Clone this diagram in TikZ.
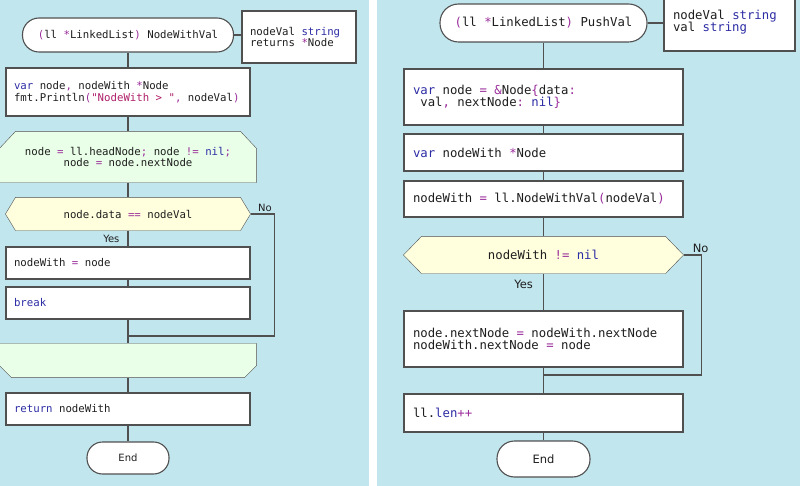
\documentclass[tikz,border=0pt]{standalone}
\usepackage{fontspec}
\setmonofont{DejaVu Sans Mono}
\setsansfont{DejaVu Sans}
\usetikzlibrary{backgrounds}

\definecolor{panel}{RGB}{194,230,238}
\definecolor{loopfill}{RGB}{233,255,231}
\definecolor{decfill}{RGB}{255,255,222}
\definecolor{edge}{RGB}{80,80,80}
\definecolor{ink}{RGB}{30,30,30}
\definecolor{kwblue}{RGB}{45,45,165}
\definecolor{oppurple}{RGB}{155,45,155}
\definecolor{strred}{RGB}{175,30,105}

\newcommand\kwd[1]{\textcolor{kwblue}{#1}}
\newcommand\opc[1]{\textcolor{oppurple}{#1}}
\newcommand\lit[1]{\textcolor{strred}{#1}}
\newcommand\monoL{\ttfamily\fontsize{10.7}{11.7}\selectfont}
\newcommand\monoR{\ttfamily\fontsize{12.3}{12.3}\selectfont}
\newcommand\labL{\sffamily\fontsize{10}{12}\selectfont}
\newcommand\labR{\sffamily\fontsize{11.5}{13}\selectfont}

\begin{document}
\begin{tikzpicture}[x=1pt,y=-1pt,line width=1.1pt,
	every node/.style={text=ink},
	conn/.style={draw=edge},
	boxL/.style={draw=edge,fill=white,inner xsep=8pt,inner ysep=0pt,text width=228pt,align=flush left,font=\monoL},
	boxR/.style={draw=edge,fill=white,inner xsep=9pt,inner ysep=0pt,text width=261pt,align=flush left,font=\monoR},
	termL/.style={draw=edge,fill=white,inner sep=0pt,font=\monoL},
	termR/.style={draw=edge,fill=white,inner sep=0pt,font=\monoR},
	formL/.style={inner sep=0pt,align=flush center,font=\monoL},
	formR/.style={inner sep=0pt,align=flush center,font=\monoR},
	lblL/.style={inner sep=2pt,font=\labL},
	lblR/.style={inner sep=2pt,font=\labR}]
	\useasboundingbox (0,0) rectangle (800,486);

	\node[termL,rounded corners=16.5pt,minimum width=211pt,minimum height=34pt] (startL) at (128,35)
		{\opc{(}ll \opc{*}LinkedList\opc{)} NodeWithVal};
	\node[boxL,text width=98pt,minimum height=52pt] (parL) at (299,37)
		{nodeVal \kwd{string}\\returns \opc{*}Node};
	\node[boxL,minimum height=48pt] (b1L) at (128,92)
		{\kwd{var} node\opc{,} nodeWith \opc{*}Node\\fmt.Println\opc{(}\lit{"NodeWith > "}\opc{,} nodeVal\opc{)}};
	\node[formL,minimum width=256pt,minimum height=50pt] (loopL) at (128,157)
		{node \opc{=} ll.headNode\opc{;} node \opc{!=} \kwd{nil}\opc{;}\\node \opc{=} node.nextNode};
	\node[formL,minimum width=244pt,minimum height=32pt] (decL) at (128,214)
		{node.data \opc{==} nodeVal};
	\node[boxL,minimum height=32pt] (b2L) at (128,263) {nodeWith \opc{=} node};
	\node[boxL,minimum height=32pt] (b3L) at (128,303) {\kwd{break}};
	\node[formL,minimum width=256pt,minimum height=33pt] (loopendL) at (128,360.5) {};
	\node[boxL,minimum height=32pt] (b4L) at (128,409) {\kwd{return} nodeWith};
	\node[termL,rounded corners=15.5pt,minimum width=82pt,minimum height=32pt,font=\labL] (endL) at (128,458) {End};
	\coordinate (joinL) at (128,336);

	\draw[conn] (startL.east) -- (startL.east -| parL.west);
	\draw[conn] (startL) -- (b1L);
	\draw[conn] (b1L) -- (loopL);
	\draw[conn] (loopL) -- (decL);
	\draw[conn] (decL) -- node[lblL,left=6pt] {Yes} (b2L);
	\draw[conn] (decL.east) -- node[lblL,above,pos=.6] {No} ++(24,0) |- (joinL);
	\draw[conn] (b2L) -- (b3L);
	\draw[conn] (b3L) -- (loopendL);
	\draw[conn] (loopendL) -- (b4L);
	\draw[conn] (b4L) -- (endL);

	\node[termR,rounded corners=18.5pt,minimum width=207pt,minimum height=38pt] (startR) at (543.5,23)
		{\opc{(}ll \opc{*}LinkedList\opc{)} PushVal};
	\node[boxR,text width=113pt,minimum height=58pt] (parR) at (729.5,22)
		{nodeVal \kwd{string}\\val \kwd{string}};
	\node[boxR,minimum height=56pt] (b1R) at (543.5,97)
		{\kwd{var} node \opc{=} \opc{\&}Node\opc{\{}data\opc{:}\\\hphantom{v}val\opc{,} nextNode\opc{:} \kwd{nil}\opc{\}}};
	\node[boxR,minimum height=37pt] (b2R) at (543.5,152.5) {\kwd{var} nodeWith \opc{*}Node};
	\node[boxR,minimum height=36pt] (b3R) at (543.5,199)
		{nodeWith \opc{=} ll.NodeWithVal\opc{(}nodeVal\opc{)}};
	\node[formR,minimum width=279pt,minimum height=36pt] (decR) at (543.5,255)
		{nodeWith \opc{!=} \kwd{nil}};
	\node[boxR,minimum height=56pt] (b4R) at (543.5,339)
		{node.nextNode \opc{=} nodeWith.nextNode\\nodeWith.nextNode \opc{=} node};
	\node[boxR,minimum height=38pt] (b5R) at (543.5,413) {ll.\kwd{len}\opc{++}};
	\node[termR,rounded corners=17.5pt,minimum width=93pt,minimum height=36pt,font=\labR] (endR) at (543.5,459) {End};
	\coordinate (joinR) at (543.5,375);

	\draw[conn] (startR.east) -- (startR.east -| parR.west);
	\draw[conn] (startR) -- (b1R);
	\draw[conn] (b1R) -- (b2R);
	\draw[conn] (b2R) -- (b3R);
	\draw[conn] (b3R) -- (decR);
	\draw[conn] (decR) -- node[lblR,left=8pt,pos=.3] {Yes} (b4R);
	\draw[conn] (decR.east) -- node[lblR,above,pos=.95] {No} ++(18,0) |- (joinR);
	\draw[conn] (b4R) -- (b5R);
	\draw[conn] (b5R) -- (endR);

	\begin{scope}[on background layer]
		\fill[white] (0,0) rectangle (800,486);
		\fill[panel] (0,0) rectangle (369,486);
		\fill[panel] (377,0) rectangle (800,486);
		\filldraw[draw=edge,fill=loopfill]
			([xshift=16pt]loopL.north west) -- ([xshift=-16pt]loopL.north east) --
			([yshift=-17pt]loopL.north east) -- (loopL.south east) --
			(loopL.south west) -- ([yshift=-17pt]loopL.north west) -- cycle;
		\filldraw[draw=edge,fill=loopfill]
			(loopendL.north west) -- (loopendL.north east) --
			([yshift=12pt]loopendL.south east) -- ([xshift=-12pt]loopendL.south east) --
			([xshift=12pt]loopendL.south west) -- ([yshift=12pt]loopendL.south west) -- cycle;
		\filldraw[draw=edge,fill=decfill]
			([xshift=10pt]decL.north west) -- ([xshift=-10pt]decL.north east) -- (decL.east) --
			([xshift=-10pt]decL.south east) -- ([xshift=10pt]decL.south west) -- (decL.west) -- cycle;
		\filldraw[draw=edge,fill=decfill]
			([xshift=18pt]decR.north west) -- ([xshift=-18pt]decR.north east) -- (decR.east) --
			([xshift=-18pt]decR.south east) -- ([xshift=18pt]decR.south west) -- (decR.west) -- cycle;
	\end{scope}
\end{tikzpicture}
\end{document}
